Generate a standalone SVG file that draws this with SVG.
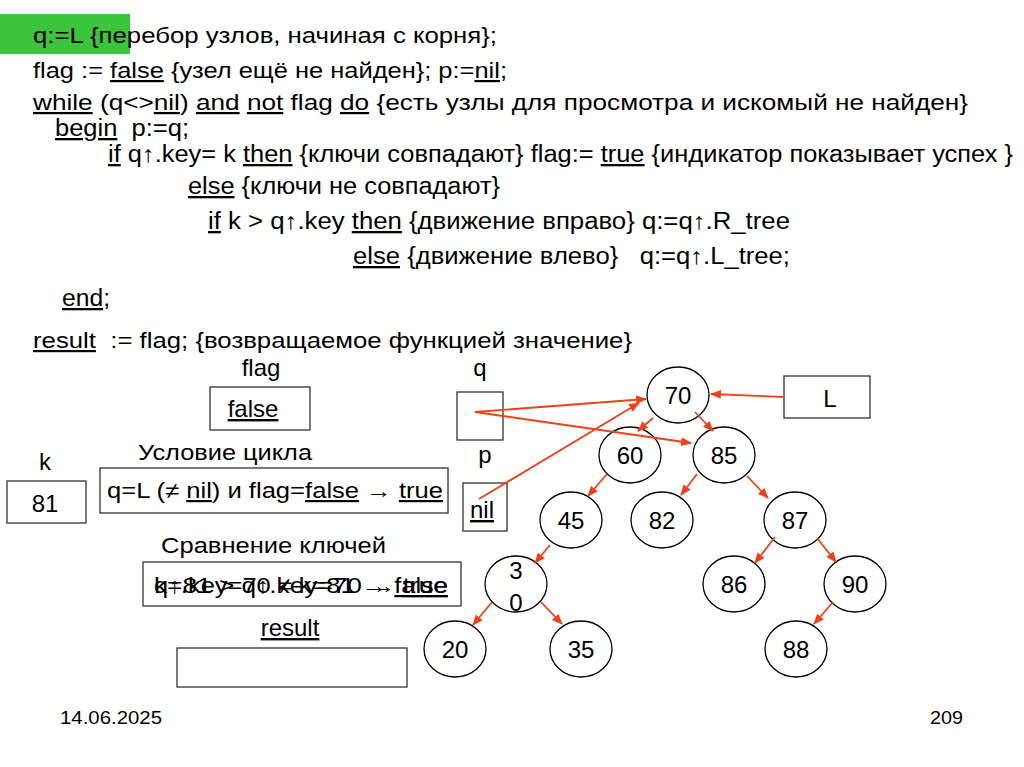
<svg xmlns="http://www.w3.org/2000/svg" width="1024" height="767" viewBox="0 0 1024 767">
<style>
text{font-family:"Liberation Sans",Arial,sans-serif;fill:#000;white-space:pre}
.t{font-size:22px}
.c{font-size:23px}
.u{text-decoration:underline}
.box{fill:#fff;stroke:#333;stroke-width:1.3}
.nd{fill:#fff;stroke:#000;stroke-width:1.3}
.n{font-size:24px;text-anchor:middle}
.ar{stroke:#f0401a;stroke-width:1.8;fill:none;marker-end:url(#ah)}
</style>
<defs>
<marker id="ah" viewBox="0 0 10 10" refX="9" refY="5" markerWidth="11" markerHeight="11" markerUnits="userSpaceOnUse" orient="auto">
<path d="M0,1 L10,5 L0,9 Z" fill="#f0401a"/>
</marker>
</defs>
<rect width="1024" height="767" fill="#fff"/>
<rect x="0" y="14" width="130" height="40" fill="#3cc43c"/>
<g id="code">
<text class="t" x="33" y="43" textLength="464" lengthAdjust="spacingAndGlyphs">q:=L {перебор узлов, начиная с корня};</text>
<text class="t" x="33" y="78" textLength="474" lengthAdjust="spacingAndGlyphs">flag := <tspan class="u">false</tspan> {узел ещё не найден}; p:=<tspan class="u">nil</tspan>;</text>
<text class="t" x="33" y="110" textLength="935" lengthAdjust="spacingAndGlyphs"><tspan class="u">while</tspan> (q&lt;&gt;<tspan class="u">nil</tspan>) <tspan class="u">and</tspan> <tspan class="u">not</tspan> flag <tspan class="u">do</tspan> {есть узлы для просмотра и искомый не найден}</text>
<text class="c" x="55" y="136" textLength="134" lengthAdjust="spacingAndGlyphs"><tspan class="u">begin</tspan>  p:=q;</text>
<text class="c" x="108" y="162" textLength="905" lengthAdjust="spacingAndGlyphs"><tspan class="u">if</tspan> q↑.key= k <tspan class="u">then</tspan> {ключи совпадают} flag:= <tspan class="u">true</tspan> {индикатор показывает успех }</text>
<text class="c" x="188" y="194" textLength="312" lengthAdjust="spacingAndGlyphs"><tspan class="u">else</tspan> {ключи не совпадают}</text>
<text class="c" x="208" y="229" textLength="582" lengthAdjust="spacingAndGlyphs"><tspan class="u">if</tspan> k &gt; q↑.key <tspan class="u">then</tspan> {движение вправо} q:=q↑.R_tree</text>
<text class="c" x="353" y="264" textLength="437" lengthAdjust="spacingAndGlyphs"><tspan class="u">else</tspan> {движение влево}   q:=q↑.L_tree;</text>
<text class="c" x="62" y="306" textLength="48" lengthAdjust="spacingAndGlyphs"><tspan class="u">end</tspan>;</text>
<text class="t" x="33" y="348" textLength="599" lengthAdjust="spacingAndGlyphs"><tspan class="u">result</tspan>  := flag; {возвращаемое функцией значение}</text>
</g>
<g id="flag">
<text class="n" x="261" y="376">flag</text>
<rect class="box" x="210" y="387" width="100" height="43"/>
<text class="n u" x="253" y="417">false</text>
</g>
<g id="q">
<text class="n" x="480" y="376">q</text>
<rect class="box" x="457" y="392" width="46" height="48"/>
</g>
<g id="p">
<text class="n" x="485" y="463">p</text>
<rect class="box" x="463" y="483" width="44" height="48"/>
<text class="n u" x="482" y="518">nil</text>
</g>
<g id="k">
<text class="n" x="45" y="470">k</text>
<rect class="box" x="7" y="481" width="79" height="42"/>
<text class="n" x="45" y="512">81</text>
</g>
<g id="cond">
<text class="t" x="138" y="460" font-size="23" textLength="174" lengthAdjust="spacingAndGlyphs">Условие цикла</text>
<rect class="box" x="100" y="468" width="348" height="45"/>
<text class="t" x="107" y="498" font-size="23" textLength="336" lengthAdjust="spacingAndGlyphs">q=L (≠ <tspan class="u">nil</tspan>) и flag=<tspan class="u">false</tspan> → <tspan class="u">true</tspan></text>
</g>
<g id="cmp">
<text class="t" x="161" y="553" font-size="23" textLength="225" lengthAdjust="spacingAndGlyphs">Сравнение ключей</text>
<rect class="box" x="143" y="562" width="318" height="44"/>
<text class="t" x="154" y="593" font-size="23" textLength="294" lengthAdjust="spacingAndGlyphs">q↑.key=70 ≠ k=81 → <tspan class="u">false</tspan></text>
<text class="t" x="154" y="593" font-size="23" textLength="294" lengthAdjust="spacingAndGlyphs">k=81 &gt; q↑.key=70 → <tspan class="u">true</tspan></text>
</g>
<g id="result">
<text class="n u" x="290" y="636">result</text>
<rect class="box" x="177" y="648" width="230" height="39"/>
</g>
<g id="L">
<rect class="box" x="784" y="376" width="86" height="42"/>
<text class="n" x="830" y="407">L</text>
</g>
<g id="n70"><ellipse class="nd" cx="678" cy="395" rx="31" ry="28"/><text class="n" x="678" y="404">70</text></g>
<g id="n60"><ellipse class="nd" cx="630" cy="455" rx="31" ry="28"/><text class="n" x="630" y="464">60</text></g>
<g id="n85"><ellipse class="nd" cx="724" cy="455" rx="31" ry="28"/><text class="n" x="724" y="464">85</text></g>
<g id="n45"><ellipse class="nd" cx="571" cy="520" rx="31" ry="28"/><text class="n" x="571" y="529">45</text></g>
<g id="n82"><ellipse class="nd" cx="662" cy="520" rx="31" ry="28"/><text class="n" x="662" y="529">82</text></g>
<g id="n87"><ellipse class="nd" cx="795" cy="520" rx="31" ry="28"/><text class="n" x="795" y="529">87</text></g>
<g id="n30"><ellipse class="nd" cx="516" cy="584" rx="31" ry="28"/><text class="n" x="516" y="579">3</text><text class="n" x="516" y="611">0</text></g>
<g id="n86"><ellipse class="nd" cx="734" cy="584" rx="31" ry="28"/><text class="n" x="734" y="593">86</text></g>
<g id="n90"><ellipse class="nd" cx="855" cy="584" rx="31" ry="28"/><text class="n" x="855" y="593">90</text></g>
<g id="n20"><ellipse class="nd" cx="455" cy="649" rx="31" ry="28"/><text class="n" x="455" y="658">20</text></g>
<g id="n35"><ellipse class="nd" cx="581" cy="649" rx="31" ry="28"/><text class="n" x="581" y="658">35</text></g>
<g id="n88"><ellipse class="nd" cx="796" cy="649" rx="31" ry="28"/><text class="n" x="796" y="658">88</text></g>
<g id="connectors">
<line class="ar" x1="475" y1="412" x2="646" y2="399"/>
<line class="ar" x1="475" y1="412" x2="691" y2="443"/>
<line class="ar" x1="479" y1="499" x2="639" y2="403"/>
<line class="ar" x1="783" y1="397" x2="711" y2="394"/>
<line class="ar" x1="653" y1="418" x2="638" y2="431"/>
<line class="ar" x1="695" y1="412" x2="713" y2="431"/>
<line class="ar" x1="607" y1="474" x2="588" y2="496"/>
<line class="ar" x1="697" y1="474" x2="681" y2="495"/>
<line class="ar" x1="747" y1="476" x2="768" y2="498"/>
<line class="ar" x1="550" y1="545" x2="535" y2="563"/>
<line class="ar" x1="775" y1="537" x2="755" y2="563"/>
<line class="ar" x1="817" y1="538" x2="836" y2="562"/>
<line class="ar" x1="492" y1="602" x2="473" y2="625"/>
<line class="ar" x1="541" y1="602" x2="562" y2="624"/>
<line class="ar" x1="833" y1="602" x2="814" y2="624"/>
</g>
<g id="footer">
<text x="60" y="724" font-size="19" textLength="102" lengthAdjust="spacingAndGlyphs">14.06.2025</text>
<text x="930" y="724" font-size="19" textLength="33" lengthAdjust="spacingAndGlyphs">209</text>
</g>
</svg>
